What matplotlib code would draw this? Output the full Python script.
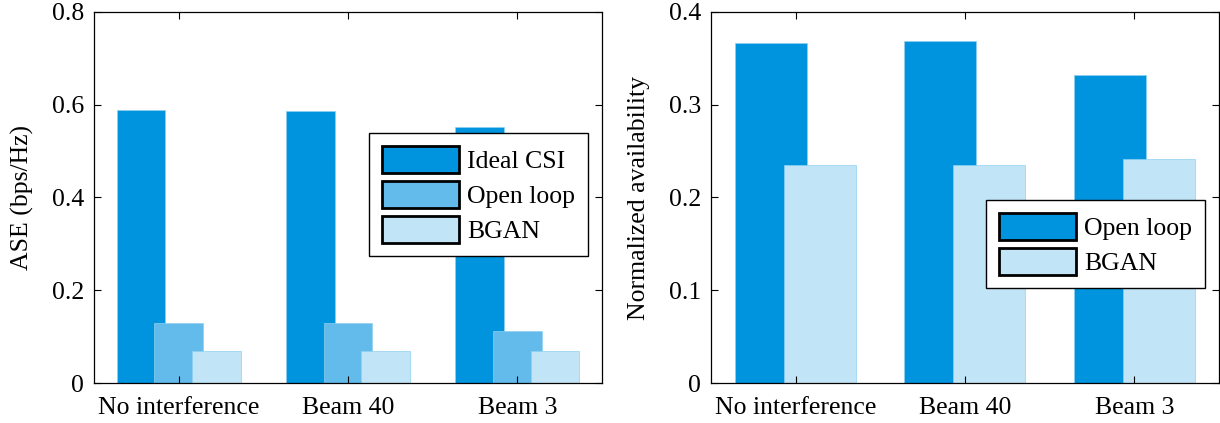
import numpy as np
import matplotlib
matplotlib.use("Agg")
import matplotlib.pyplot as plt

plt.rcParams["font.family"] = ["Liberation Serif", "DejaVu Serif"]
plt.rcParams["font.size"] = 18.5

categories = ["No interference", "Beam 40", "Beam 3"]

# left panel: area spectral efficiency
ase_ideal = [0.589, 0.586, 0.553]
ase_open = [0.130, 0.130, 0.113]
ase_bgan = [0.070, 0.070, 0.069]

# right panel: normalized availability
avail_open = [0.367, 0.369, 0.332]
avail_bgan = [0.235, 0.235, 0.241]

C_DARK = "#0093DE"
C_MID = "#62BBEA"
C_LIGHT = "#C1E4F7"
EDGE = "#8fd0f0"

W, H = 1220, 423
fig = plt.figure(figsize=(W / 100, H / 100), dpi=100)
ax_l = fig.add_axes([94 / W, (H - 383) / H, 508 / W, 371 / H])
ax_r = fig.add_axes([711 / W, (H - 383) / H, 508 / W, 371 / H])

x = np.arange(1, len(categories) + 1)

# left: three overlapping bars per group
for off, vals, col, lab in [
    (-0.222, ase_ideal, C_DARK, "Ideal CSI"),
    (0.0, ase_open, C_MID, "Open loop"),
    (0.222, ase_bgan, C_LIGHT, "BGAN"),
]:
    ax_l.bar(x + off, vals, width=0.287, color=col, edgecolor=EDGE,
             linewidth=0.5, label=lab)

# right: two overlapping bars per group
for off, vals, col, lab in [
    (-0.146, avail_open, C_DARK, "Open loop"),
    (0.143, avail_bgan, C_LIGHT, "BGAN"),
]:
    ax_r.bar(x + off, vals, width=0.425, color=col, edgecolor=EDGE,
             linewidth=0.5, label=lab)

ax_l.set_ylim(0, 0.8)
ax_l.set_yticks([0, 0.2, 0.4, 0.6, 0.8])
ax_l.set_yticklabels(["0", "0.2", "0.4", "0.6", "0.8"])
ax_l.set_ylabel("ASE (bps/Hz)", labelpad=13)

ax_r.set_ylim(0, 0.4)
ax_r.set_yticks([0, 0.1, 0.2, 0.3, 0.4])
ax_r.set_yticklabels(["0", "0.1", "0.2", "0.3", "0.4"])
ax_r.set_ylabel("Normalized availability", labelpad=14)

for ax in (ax_l, ax_r):
    ax.set_xlim(0.5, 3.5)
    ax.set_xticks(x)
    ax.set_xticklabels(categories)
    ax.tick_params(direction="in", length=5, width=0.8, top=True, right=True,
                   pad=7, colors="black")
    ax.tick_params(axis="x", pad=10)
    for sp in ax.spines.values():
        sp.set_linewidth(0.9)
        sp.set_color("black")

leg_kw = dict(frameon=True, fancybox=False, shadow=False, framealpha=1,
              edgecolor="black", handlelength=3.0, handleheight=1.25,
              labelspacing=0.3, borderpad=0.5, handletextpad=0.3,
              borderaxespad=0, fontsize=18.5)
leg_l = ax_l.legend(loc="upper right", bbox_to_anchor=(0.972, 0.674), **leg_kw)
leg_r = ax_r.legend(loc="upper right", bbox_to_anchor=(0.972, 0.493), **leg_kw)
for leg in (leg_l, leg_r):
    leg.get_frame().set_linewidth(1.0)
    for p in leg.get_patches():
        p.set_edgecolor("black")
        p.set_linewidth(2.0)

fig.savefig("out.png", dpi=100)
